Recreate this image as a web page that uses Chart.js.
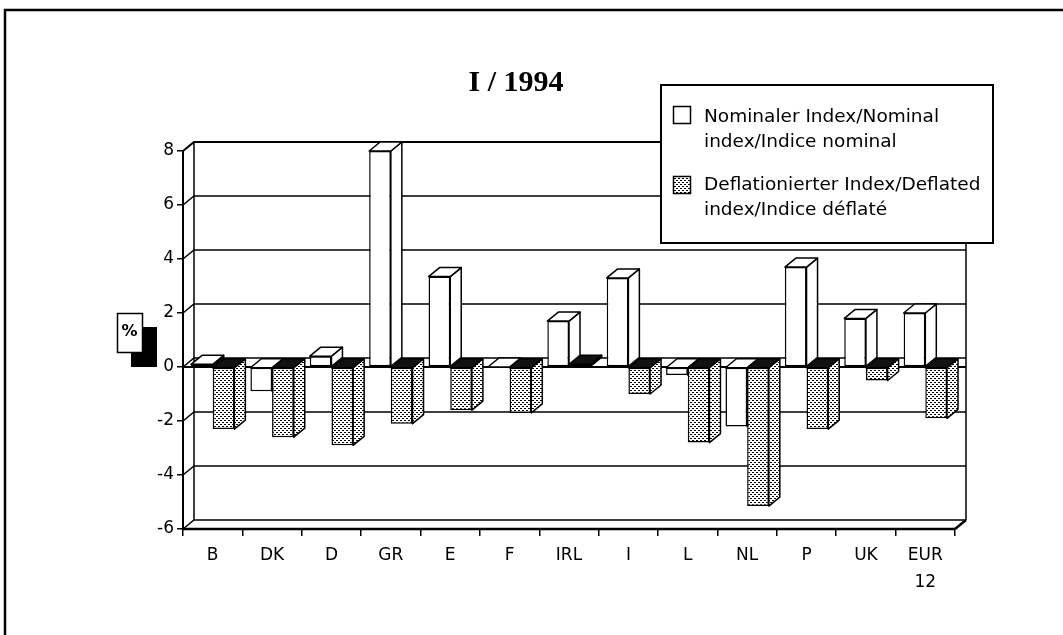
<!DOCTYPE html>
<html>
<head>
<meta charset="utf-8">
<script src="https://cdn.jsdelivr.net/npm/chart.js@4.4.0/dist/chart.umd.min.js"></script>
<style>
  body { margin: 0; background: #fff; }
  canvas { display: block; }
</style>
</head>
<body>
<canvas id="chart" width="1063" height="635"></canvas>
<script>
// Data
const countries = ['B', 'DK', 'D', 'GR', 'E', 'F', 'IRL', 'I', 'L', 'NL', 'P', 'UK', ['EUR', '12']];
const nominalIndex = [0.1, -0.9, 0.4, 8.0, 3.35, 0.0, 1.7, 3.3, -0.3, -2.2, 3.7, 1.8, 2.0];
const deflatedIndex = [-2.3, -2.6, -2.9, -2.1, -1.6, -1.7, 0.1, -1.0, -2.8, -5.15, -2.3, -0.5, -1.9];
const yTicks = [-6, -4, -2, 0, 2, 4, 6, 8];
const chartTitle = 'I / 1994';
const unitLabel = '%';
const legendNominal = ['Nominaler Index/Nominal', 'index/Indice nominal'];
const legendDeflated = ['Deflationierter Index/Deflated', 'index/Indice déflaté'];

const FONT = '"DejaVu Sans", sans-serif';
const DX = 11, DY = -9;   // depth offset of the 3D look

const canvas = document.getElementById('chart');
const mainCtx = canvas.getContext('2d');

// stippled fill like the scan
function makeStipple() {
    let tile = document.createElement('canvas');
    tile.width = 4; tile.height = 4;
    let g = tile.getContext('2d');
    g.fillStyle = '#fff';
    g.fillRect(0, 0, 4, 4);
    g.fillStyle = '#000';
    g.fillRect(0, 0, 2, 1);
    g.fillRect(2, 2, 2, 1);
    return mainCtx.createPattern(tile, 'repeat');
}
const stipple = makeStipple();

function poly(ctx, pts, fill) {
    ctx.beginPath();
    ctx.moveTo(pts[0][0], pts[0][1]);
    for (let i = 1; i < pts.length; i++) ctx.lineTo(pts[i][0], pts[i][1]);
    ctx.closePath();
    ctx.fillStyle = fill;
    ctx.fill();
    ctx.stroke();
}

function line(ctx, x1, y1, x2, y2) {
    ctx.beginPath();
    ctx.moveTo(x1, y1);
    ctx.lineTo(x2, y2);
    ctx.stroke();
}

const frame3d = {
    id: 'frame3d',
    beforeDraw(chart) {
        const ctx = chart.ctx, a = chart.chartArea, ys = chart.scales.y;
        ctx.save();
        ctx.fillStyle = '#fff';
        ctx.fillRect(0, 0, chart.width, chart.height);
        ctx.strokeStyle = '#000';

        // page frame
        ctx.lineWidth = 2.5;
        ctx.beginPath();
        ctx.moveTo(5, 640); ctx.lineTo(5, 10); ctx.lineTo(1063, 10);
        ctx.stroke();

        // title
        ctx.fillStyle = '#000';
        ctx.font = 'bold 30px "Liberation Serif", serif';
        ctx.textAlign = 'center';
        ctx.textBaseline = 'alphabetic';
        ctx.fillText(chartTitle, 516, 91);

        // back wall grid + left wall diagonals
        ctx.lineWidth = 1.5;
        for (const v of yTicks) {
            let y = ys.getPixelForValue(v);
            ctx.lineWidth = v === 8 ? 2 : 1.5;
            ctx.beginPath();
            ctx.moveTo(a.left, y);
            ctx.lineTo(a.left + DX, y + DY);
            ctx.lineTo(a.right + DX, y + DY);
            ctx.stroke();
        }
        ctx.lineWidth = 1.5;
        line(ctx, a.left + DX, a.top + DY, a.left + DX, a.bottom + DY);
        line(ctx, a.right + DX, a.top + DY, a.right + DX, a.bottom + DY);

        // zero line at the front
        let y0 = ys.getPixelForValue(0);
        ctx.lineWidth = 2;
        line(ctx, a.left, y0, a.right + DX, y0);

        // floor
        ctx.lineWidth = 2.5;
        line(ctx, a.left, a.bottom, a.right, a.bottom);
        line(ctx, a.right, a.bottom, a.right + DX, a.bottom + DY);

        // "%" box with shadow
        ctx.fillStyle = '#000';
        ctx.fillRect(131, 327, 26, 40);
        ctx.fillStyle = '#fff';
        ctx.lineWidth = 1.5;
        ctx.fillRect(117, 313, 25, 39);
        ctx.strokeRect(117.5, 313.5, 25, 39);
        ctx.fillStyle = '#000';
        ctx.font = 'bold 16px ' + FONT;
        ctx.textAlign = 'center';
        ctx.textBaseline = 'middle';
        ctx.fillText(unitLabel, 129.5, 332);
        ctx.restore();
    },
    beforeDatasetsDraw(chart) {
        // top and side faces of each bar, the front face is drawn by Chart.js
        const ctx = chart.ctx;
        ctx.save();
        ctx.strokeStyle = '#000';
        ctx.lineWidth = 1.5;
        ctx.lineJoin = 'round';
        for (let d = 0; d < 2; d++) {
            const meta = chart.getDatasetMeta(d);
            for (const bar of meta.data) {
                const p = bar.getProps(['x', 'y', 'base', 'width'], true);
                let l = p.x - p.width / 2, r = p.x + p.width / 2;
                let top = Math.min(p.y, p.base), bottom = Math.max(p.y, p.base);
                let sideFill = d === 0 ? '#fff' : stipple;
                let topFill = d === 0 ? '#fff' : '#111';
                poly(ctx, [[r, top], [r + DX, top + DY], [r + DX, bottom + DY], [r, bottom]], sideFill);
                poly(ctx, [[l, top], [r, top], [r + DX, top + DY], [l + DX, top + DY]], topFill);
            }
        }
        ctx.restore();
    },
    afterDraw(chart) {
        const ctx = chart.ctx;
        ctx.save();
        ctx.fillStyle = '#fff';
        ctx.strokeStyle = '#000';
        ctx.lineWidth = 2;
        ctx.fillRect(661, 85, 332, 158);
        ctx.strokeRect(661, 85, 332, 158);

        ctx.lineWidth = 1.5;
        ctx.strokeRect(673.5, 106.5, 17, 17);
        ctx.fillStyle = stipple;
        ctx.fillRect(673.5, 176.5, 17, 17);
        ctx.strokeRect(673.5, 176.5, 17, 17);

        ctx.fillStyle = '#000';
        ctx.font = '18.5px ' + FONT;
        ctx.textAlign = 'left';
        ctx.textBaseline = 'middle';
        ctx.fillText(legendNominal[0], 704, 117);
        ctx.fillText(legendNominal[1], 704, 142);
        ctx.fillText(legendDeflated[0], 704, 185);
        ctx.fillText(legendDeflated[1], 704, 210);
        ctx.restore();
    }
};

const config = {
    type: 'bar',
    data: {
        labels: countries,
        datasets: [
            {
                label: legendNominal.join(' '),
                data: nominalIndex,
                backgroundColor: '#fff',
                borderColor: '#000',
                borderWidth: 1.5,
                borderSkipped: false
            },
            {
                label: legendDeflated.join(' '),
                data: deflatedIndex,
                backgroundColor: stipple,
                borderColor: '#000',
                borderWidth: 1.5,
                borderSkipped: false
            }
        ]
    },
    options: {
        responsive: false,
        devicePixelRatio: 1,
        animation: false,
        layout: {
            padding: { left: 0, top: 151, right: 108, bottom: 46 }
        },
        datasets: {
            bar: { categoryPercentage: 0.73, barPercentage: 1.0 }
        },
        scales: {
            x: {
                afterFit(scale) { scale.height = 60; },
                grid: { offset: true, drawOnChartArea: false, tickLength: 7, color: '#000', lineWidth: 1.5 },
                border: { display: false },
                ticks: {
                    color: '#000',
                    font: { family: FONT, size: 17, lineHeight: 1.6 },
                    padding: 6,
                    maxRotation: 0,
                    autoSkip: false
                }
            },
            y: {
                min: -6,
                max: 8,
                afterFit(scale) { scale.width = 183; },
                grid: { drawOnChartArea: false, tickLength: 6, color: '#000', lineWidth: 1.5 },
                border: { display: true, color: '#000', width: 2 },
                ticks: {
                    stepSize: 2,
                    color: '#000',
                    padding: 3,
                    font: { family: FONT, size: 17 }
                }
            }
        },
        plugins: {
            legend: { display: false },
            title: { display: false },
            tooltip: { enabled: false }
        }
    },
    plugins: [frame3d]
};

const myChart = new Chart(canvas, config);
</script>
</body>
</html>
